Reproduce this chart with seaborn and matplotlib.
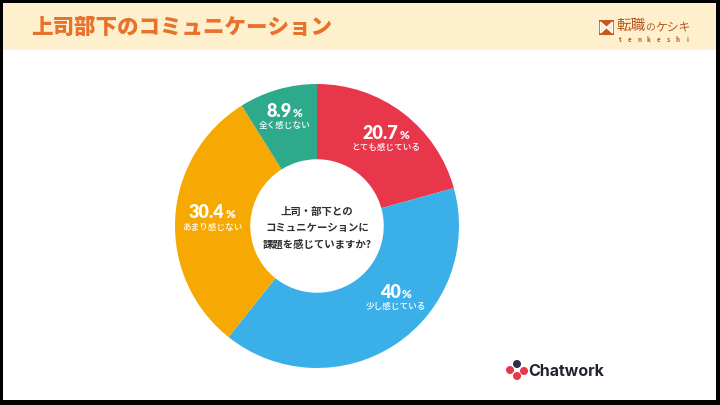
import numpy as np
import matplotlib
matplotlib.use("Agg")
import matplotlib.pyplot as plt
from matplotlib.patches import Rectangle, Ellipse, Polygon
from matplotlib.offsetbox import TextArea, HPacker, AnnotationBbox
import seaborn as sns

# ---- data ----
categories = ["とても感じている", "少し感じている", "あまり感じない", "全く感じない"]
values = [20.7, 40.0, 30.4, 8.9]
value_labels = ["20.7", "40", "30.4", "8.9"]
colors = ["#E8364B", "#3BB0E8", "#F5A902", "#2CAA8B"]
title = "上司部下のコミュニケーション"
center_text = "上司・部下との\nコミュニケーションに\n課題を感じていますか?"

sns.set_theme(style="white")
plt.rcParams["font.family"] = ["Noto Sans CJK JP", "DejaVu Sans"]

W, H = 720, 405
fig = plt.figure(figsize=(7.2, 4.05), dpi=100, facecolor="black")

def fx(x):
    return x / W

def fy(y):
    return 1 - y / H

# white page and header band
fig.patches.append(Rectangle((fx(3), fy(400)), (716 - 3) / W, (400 - 3) / H,
                             transform=fig.transFigure, facecolor="white", edgecolor="none", zorder=-2))
fig.patches.append(Rectangle((fx(3), fy(50)), (716 - 3) / W, (50 - 3) / H,
                             transform=fig.transFigure, facecolor="#FFF0CD", edgecolor="none", zorder=-1))
fig.text(fx(31), fy(27), title, fontsize=15.5, fontweight="heavy", color="#E8722C",
         ha="left", va="center")

# tenkeshi logo
fig.patches.append(Rectangle((fx(599), fy(35)), 15 / W, 15 / H, transform=fig.transFigure,
                             facecolor="#C4581E", edgecolor="none", zorder=2))
fig.patches.append(Polygon([(fx(600.5), fy(22)), (fx(606.5), fy(27.5)), (fx(600.5), fy(33))],
                           closed=True, transform=fig.transFigure, facecolor="#FFE9C8", zorder=3))
fig.patches.append(Polygon([(fx(612.5), fy(22)), (fx(606.5), fy(27.5)), (fx(612.5), fy(33))],
                           closed=True, transform=fig.transFigure, facecolor="#FFE9C8", zorder=3))
fig.text(fx(616), fy(26), "転職", fontsize=10.5, color="#B4541C", ha="left", va="center")
fig.text(fx(645), fy(27.5), "の", fontsize=7, color="#B4541C", ha="left", va="center")
fig.text(fx(655), fy(26.5), "ケシキ", fontsize=8.5, color="#B4541C", ha="left", va="center")
for i, ch in enumerate("tenkeshi"):
    fig.text(fx(620 + i * 9.6), fy(39), ch, fontsize=4.5, color="#B4541C", ha="center",
             va="center", fontweight="bold")

# donut
cx, cy, R = 317, 226, 142
ax = fig.add_axes([fx(cx - R), fy(cy + R), 2 * R / W, 2 * R / H])
ax.set_zorder(5)
ax.patch.set_alpha(0)
wedges, _ = ax.pie(values, colors=colors, startangle=90, counterclock=False, radius=1,
                   wedgeprops=dict(width=0.53, edgecolor="none"))
ax.set_xlim(-1, 1)
ax.set_ylim(-1, 1)
ax.set_aspect("equal")
ax.axis("off")

label_r = [0.775, 0.76, 0.74, 0.79]
angle_adj = [-1.5, 13.5, 0, 1]
for w, vl, cat, r, da in zip(wedges, value_labels, categories, label_r, angle_adj):
    mid = np.deg2rad((w.theta1 + w.theta2) / 2 + da)
    x, y = r * np.cos(mid), r * np.sin(mid)
    num = TextArea(vl, textprops=dict(color="white", fontsize=13, fontweight="heavy",
                                      family=["Lato", "DejaVu Sans"]))
    pct = TextArea("%", textprops=dict(color="white", fontsize=8.5, fontweight="heavy",
                                       family=["Lato", "DejaVu Sans"]))
    box = HPacker(children=[num, pct], align="baseline", pad=0, sep=0.6)
    ab = AnnotationBbox(box, (x, y + 0.05), frameon=False, box_alignment=(0.5, 0.5),
                        xycoords="data")
    ax.add_artist(ab)
    ax.text(x, y - 0.05, cat, color="white", fontsize=6.2, fontweight="medium",
            ha="center", va="center")

ax.text(0.0, -0.015, center_text, ha="center", va="center", fontsize=7.5, fontweight="bold",
        color="#2E2E2E", linespacing=1.75)

# Chatwork logo
for (px_, py_, c) in [(517, 364, "#2A2F45"), (510, 370, "#E8364B"), (517, 376, "#E8364B"), (524, 371, "#E8364B")]:
    fig.patches.append(Ellipse((fx(px_), fy(py_)), 8 / W, 8 / H, transform=fig.transFigure,
                               facecolor=c, edgecolor="none", zorder=3))
fig.text(fx(528), fy(371), "Chatwork", fontsize=11.5, fontweight="bold", color="#23232E",
         ha="left", va="center", family=["Inter", "DejaVu Sans"])

fig.savefig("out.png", dpi=100, facecolor=fig.get_facecolor())
